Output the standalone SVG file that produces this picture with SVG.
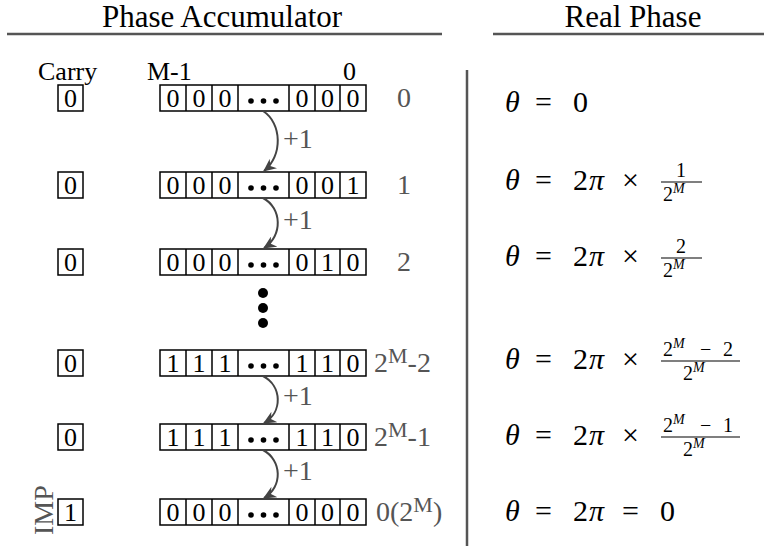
<svg xmlns="http://www.w3.org/2000/svg" xmlns:xlink="http://www.w3.org/1999/xlink" width="764" height="550" viewBox="0 0 764 550" font-family="'Liberation Serif', Tinos, 'Times New Roman', 'Nimbus Roman', 'DejaVu Serif', serif">
<style>
text,tspan{font-family:"Liberation Serif","Tinos","Times New Roman","Nimbus Roman","DejaVu Serif",serif;}
.hdr{font-size:31px;fill:#000;text-anchor:middle}
.lbl{font-size:26px;fill:#000}
.dig{font-size:26px;fill:#000;text-anchor:middle}
.val{font-size:28px;fill:#555}
.sup{font-size:22px;fill:#555}
.box{fill:none;stroke:#000;stroke-width:1.5}
.rule{stroke:#555;stroke-width:2.5}
.arr{fill:none;stroke:#444;stroke-width:2;marker-end:url(#ah)}
.plus{font-size:28px;fill:#555}
.m{font-size:30px;fill:#000}
.mi{font-style:italic}
.fr{font-size:20px;fill:#000}
.fs{font-size:14px;fill:#000;font-style:italic}
.bar{stroke:#000;stroke-width:1.2}
</style>
<defs>
<marker id="ah" markerWidth="14" markerHeight="12" refX="12" refY="6" orient="auto" markerUnits="userSpaceOnUse">
<path d="M0,0 L13,6 L0,12 L4,6 z" fill="#444"/>
</marker>
<g id="reg">
<rect class="box" x="160" y="0" width="206" height="26"/>
<path class="box" d="M186,0V26M212,0V26M238,0V26M289,0V26M315,0V26M340,0V26"/>
<circle cx="251" cy="16" r="2.8"/><circle cx="263.5" cy="16" r="2.8"/><circle cx="276" cy="16" r="2.8"/>
<rect class="box" x="58" y="0" width="25" height="26"/>
</g>
</defs>
<rect width="764" height="550" fill="#fff"/>

<g id="headers">
<text class="hdr" x="222" y="27">Phase Accumulator</text>
<line class="rule" x1="7" y1="34" x2="442" y2="34"/>
<text class="hdr" x="633" y="27">Real Phase</text>
<line class="rule" x1="493" y1="34" x2="764" y2="34"/>
<line class="rule" x1="467" y1="70" x2="467" y2="546"/>
</g>

<g id="colLabels">
<text class="lbl" x="38" y="80">Carry</text>
<text class="lbl" x="147" y="80">M-1</text>
<text class="lbl" x="343" y="80">0</text>
</g>

<g id="row1" transform="translate(0,85)">
<use xlink:href="#reg"/>
<text class="dig" y="22"><tspan x="70.5">0</tspan><tspan x="173">0</tspan><tspan x="199">0</tspan><tspan x="225">0</tspan><tspan x="302">0</tspan><tspan x="327.5">0</tspan><tspan x="353">0</tspan></text>
<text class="val" x="397" y="22">0</text>
</g>
<g id="row2" transform="translate(0,172)">
<use xlink:href="#reg"/>
<text class="dig" y="22"><tspan x="70.5">0</tspan><tspan x="173">0</tspan><tspan x="199">0</tspan><tspan x="225">0</tspan><tspan x="302">0</tspan><tspan x="327.5">0</tspan><tspan x="353">1</tspan></text>
<text class="val" x="397" y="22">1</text>
</g>
<g id="row3" transform="translate(0,249)">
<use xlink:href="#reg"/>
<text class="dig" y="22"><tspan x="70.5">0</tspan><tspan x="173">0</tspan><tspan x="199">0</tspan><tspan x="225">0</tspan><tspan x="302">0</tspan><tspan x="327.5">1</tspan><tspan x="353">0</tspan></text>
<text class="val" x="397" y="22">2</text>
</g>
<g id="vdots">
<circle cx="263" cy="293" r="5"/><circle cx="263" cy="308" r="5"/><circle cx="263" cy="323" r="5"/>
</g>
<g id="row4" transform="translate(0,350)">
<use xlink:href="#reg"/>
<text class="dig" y="22"><tspan x="70.5">0</tspan><tspan x="173">1</tspan><tspan x="199">1</tspan><tspan x="225">1</tspan><tspan x="302">1</tspan><tspan x="327.5">1</tspan><tspan x="353">0</tspan></text>
<text class="val" x="374" y="22">2<tspan class="sup" dy="-9">M</tspan><tspan dy="9">-2</tspan></text>
</g>
<g id="row5" transform="translate(0,424)">
<use xlink:href="#reg"/>
<text class="dig" y="22"><tspan x="70.5">0</tspan><tspan x="173">1</tspan><tspan x="199">1</tspan><tspan x="225">1</tspan><tspan x="302">1</tspan><tspan x="327.5">1</tspan><tspan x="353">0</tspan></text>
<text class="val" x="374" y="22">2<tspan class="sup" dy="-9">M</tspan><tspan dy="9">-1</tspan></text>
</g>
<g id="row6" transform="translate(0,499)">
<use xlink:href="#reg"/>
<text class="dig" y="22"><tspan x="70.5">1</tspan><tspan x="173">0</tspan><tspan x="199">0</tspan><tspan x="225">0</tspan><tspan x="302">0</tspan><tspan x="327.5">0</tspan><tspan x="353">0</tspan></text>
<text class="val" x="376" y="22">0(2<tspan class="sup" dy="-9">M</tspan><tspan dy="9">)</tspan></text>
<text class="val" transform="translate(53,36) rotate(-90)">IMP</text>
</g>

<g id="connectors">
<path class="arr" d="M263,111 C282,123 283,156 264,171"/>
<path class="arr" d="M263,198 C282,208 283,236 264,248"/>
<path class="arr" d="M263,376 C282,386 283,412 264,423"/>
<path class="arr" d="M263,450 C282,460 283,487 264,498"/>
<text class="plus" x="283" y="148">+1</text>
<text class="plus" x="283" y="229">+1</text>
<text class="plus" x="283" y="405">+1</text>
<text class="plus" x="283" y="480">+1</text>
</g>

<g id="math1">
<text class="m" y="112"><tspan class="mi" x="505">θ</tspan><tspan x="535">=</tspan><tspan x="573">0</tspan></text>
</g>
<g id="math2">
<text class="m" y="190"><tspan class="mi" x="505">θ</tspan><tspan x="535">=</tspan><tspan x="573">2</tspan><tspan class="mi" x="589">π</tspan><tspan x="622">×</tspan></text>
<line class="bar" x1="661" y1="182" x2="702" y2="182"/>
<text class="fr" x="681" y="177" text-anchor="middle">1</text>
<text class="fr" x="663" y="201">2<tspan class="fs" dy="-8">M</tspan></text>
</g>
<g id="math3">
<text class="m" y="266"><tspan class="mi" x="505">θ</tspan><tspan x="535">=</tspan><tspan x="573">2</tspan><tspan class="mi" x="589">π</tspan><tspan x="622">×</tspan></text>
<line class="bar" x1="661" y1="258" x2="702" y2="258"/>
<text class="fr" x="681" y="253" text-anchor="middle">2</text>
<text class="fr" x="663" y="277">2<tspan class="fs" dy="-8">M</tspan></text>
</g>
<g id="math4">
<text class="m" y="369"><tspan class="mi" x="505">θ</tspan><tspan x="535">=</tspan><tspan x="573">2</tspan><tspan class="mi" x="589">π</tspan><tspan x="622">×</tspan></text>
<line class="bar" x1="661" y1="361" x2="740" y2="361"/>
<text class="fr" x="663" y="356">2<tspan class="fs" dy="-8">M</tspan><tspan dy="8" x="700">−</tspan><tspan x="723">2</tspan></text>
<text class="fr" x="683" y="380">2<tspan class="fs" dy="-8">M</tspan></text>
</g>
<g id="math5">
<text class="m" y="445"><tspan class="mi" x="505">θ</tspan><tspan x="535">=</tspan><tspan x="573">2</tspan><tspan class="mi" x="589">π</tspan><tspan x="622">×</tspan></text>
<line class="bar" x1="661" y1="437" x2="740" y2="437"/>
<text class="fr" x="663" y="432">2<tspan class="fs" dy="-8">M</tspan><tspan dy="8" x="700">−</tspan><tspan x="723">1</tspan></text>
<text class="fr" x="683" y="456">2<tspan class="fs" dy="-8">M</tspan></text>
</g>
<g id="math6">
<text class="m" y="521"><tspan class="mi" x="505">θ</tspan><tspan x="535">=</tspan><tspan x="573">2</tspan><tspan class="mi" x="589">π</tspan><tspan x="622">=</tspan><tspan x="660">0</tspan></text>
</g>
</svg>
